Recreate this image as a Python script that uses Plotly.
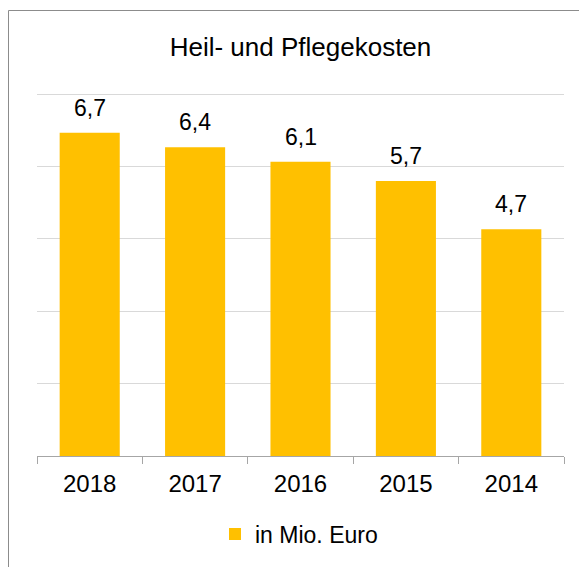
import plotly.graph_objects as go

years = ["2018", "2017", "2016", "2015", "2014"]
values = [6.7, 6.4, 6.1, 5.7, 4.7]
labels = ["6,7", "6,4", "6,1", "5,7", "4,7"]
series_name = "in Mio. Euro"
title_text = "Heil- und Pflegekosten"

# page body has an 8px default margin, so the figure is 8px smaller than the window
W, H = 579, 559
L, R, T, B = 29, 23, 84, 111
pw, ph = W - L - R, H - T - B

FONT = "Liberation Sans, Arial, sans-serif"

fig = go.Figure()
fig.add_trace(go.Bar(
    x=years, y=values, name=series_name,
    marker=dict(color="#FFC000", line=dict(width=0)),
))

# data labels at category index positions
for i, (v, t) in enumerate(zip(values, labels)):
    fig.add_annotation(x=i, y=v, xref="x", yref="y", text=t, showarrow=False, yanchor="bottom",
                       yshift=10, font=dict(size=23, color="#000000", family=FONT))

def px_x(px):
    return (px - L) / pw

def px_y(py):
    return (H - B - py) / ph

# chart-area frame (top and left edges visible in the crop)
fig.add_shape(type="line", xref="paper", yref="paper",
              x0=px_x(0.5), x1=px_x(W), y0=px_y(2.5), y1=px_y(2.5),
              line=dict(color="#8C8C8C", width=1))
fig.add_shape(type="line", xref="paper", yref="paper",
              x0=px_x(0.5), x1=px_x(0.5), y0=px_y(2.5), y1=px_y(H),
              line=dict(color="#8C8C8C", width=1))

fig.update_layout(
    width=W, height=H,
    margin=dict(l=L, r=R, t=T, b=B, autoexpand=False),
    paper_bgcolor="white", plot_bgcolor="white",
    font=dict(family=FONT, color="#000000"),
    title=dict(text=title_text, x=0.5, xref="paper", y=1 - 39 / H, yanchor="middle",
               font=dict(size=26, color="#000000", family=FONT)),
    bargap=0.43,
    showlegend=True,
    legend=dict(orientation="h", x=px_x(207), xanchor="left", y=px_y(526), yanchor="middle",
                font=dict(size=23, color="#000000", family=FONT)),
    xaxis=dict(type="category", categoryorder="array", categoryarray=years,
               range=[-0.5, len(years) - 0.5],
               showline=True, linecolor="#A6A6A6", linewidth=1,
               ticks="outside", tickson="boundaries", ticklen=7, tickcolor="#A6A6A6",
               tickfont=dict(size=24, color="#000000", family=FONT),
               showgrid=False, tickangle=0, ticklabelstandoff=6),
    yaxis=dict(range=[0, 7.547], dtick=1.5, tick0=0, showgrid=True, gridcolor="#D9D9D9",
               gridwidth=1, showticklabels=False, showline=False, zeroline=False, ticks=""),
)

fig.write_html("out.html")
